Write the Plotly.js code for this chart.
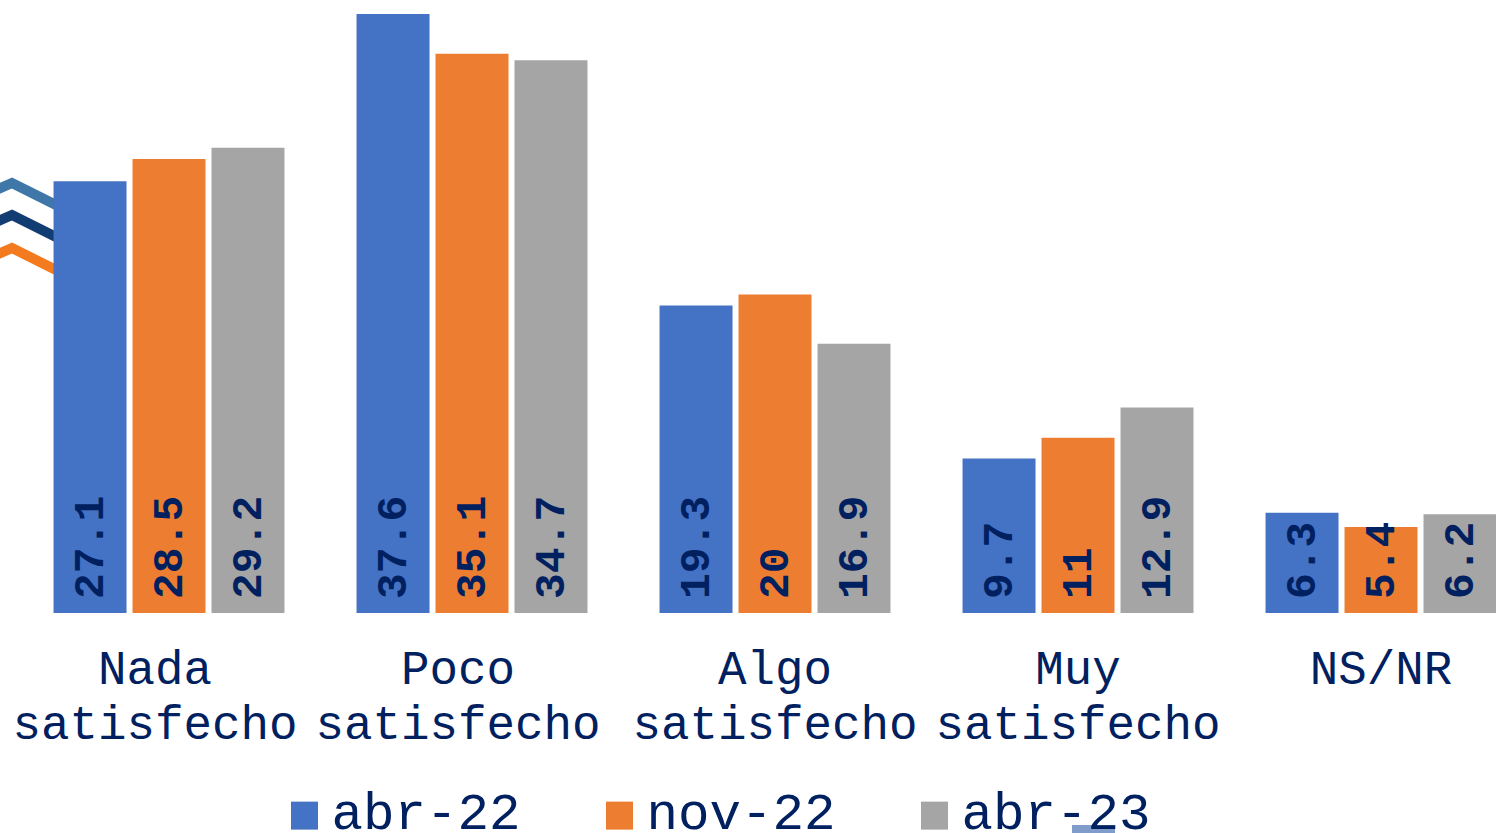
<!DOCTYPE html>
<html><head><meta charset="utf-8">
<script src="https://cdn.plot.ly/plotly-3.0.1.min.js"></script>
<style>html,body{margin:0;padding:0;background:#fff;overflow:hidden}</style>
</head><body><div id="chart" style="width:1496px;height:833px"></div>
<script>
const categories = [0, 1, 2, 3, 4];
const tickPositions = [-0.046, 0.954, 2, 3, 4];
const tickLabels = ["Nada<br>satisfecho", "Poco<br>satisfecho", "Algo<br>satisfecho", "Muy<br>satisfecho", "NS/NR"];
const abr22 = [27.1, 37.6, 19.3, 9.7, 6.3];
const nov22 = [28.5, 35.1, 20, 11, 5.4];
const abr23 = [29.2, 34.7, 16.9, 12.9, 6.2];
const seriesNames = ["abr-22", "nov-22", "abr-23"];
const seriesColors = ["#4472C4", "#ED7D31", "#A5A5A5"];
const ink = "#002060";
const mono = "'Liberation Mono','Courier New',monospace";

const traces = [abr22, nov22, abr23].map((v, i) => ({
  type: "bar", name: seriesNames[i], x: categories, y: v,
  text: v.map(String), textposition: "inside", insidetextanchor: "start",
  textangle: -90, constraintext: "none", cliponaxis: false,
  textfont: {family: mono, size: 43, color: ink, weight: 700},
  marker: {color: seriesColors[i], line: {width: 0}},
  hoverinfo: "x+y+name"
}));

function chevron(yPeak, color) {
  return {type: "path", layer: "below", xref: "paper", yref: "paper",
    path: `M-0.004,${1 - (yPeak + 8) / 833} L${12 / 1496},${1 - yPeak / 833} L${56 / 1496},${1 - (yPeak + 22) / 833}`,
    line: {color, width: 10}};
}

const layout = {
  width: 1496, height: 833,
  margin: {l: 0, r: 0, t: 0, b: 0, pad: 0},
  paper_bgcolor: "#fff", plot_bgcolor: "rgba(0,0,0,0)",
  barmode: "group", bargap: 0.218, bargroupgap: 0.076,
  showlegend: true,
  legend: {
    orientation: "h", x: 0.1855, xanchor: "left", y: 0, yanchor: "bottom",
    font: {family: mono, size: 52.5, color: ink},
    entrywidth: 256, entrywidthmode: "pixels", itemwidth: 44,
    bgcolor: "rgba(0,0,0,0)", borderwidth: 0, traceorder: "normal"
  },
  xaxis: {
    type: "linear", range: [-0.5578, 4.3795], tickmode: "array",
    tickvals: tickPositions, ticktext: tickLabels, ticks: "", showgrid: false,
    zeroline: false, showline: false, automargin: false, tickangle: 0,
    ticklabelstandoff: 22,
    tickfont: {family: mono, size: 47.5, color: ink}
  },
  yaxis: {range: [0, 38.48], domain: [220 / 833, 1], visible: false, fixedrange: true},
  shapes: [
    chevron(183, "#3f78a8"), chevron(215, "#123d73"), chevron(248, "#f47a20"),
    {type: "rect", layer: "below", xref: "paper", yref: "paper",
     x0: 1072 / 1496, x1: 1115 / 1496, y0: 0, y1: 8 / 833,
     fillcolor: "#7f9ccb", line: {width: 0}}
  ]
};

Plotly.newPlot("chart", traces, layout, {displayModeBar: false, responsive: false}).then(gd => {
  gd.querySelectorAll(".legend .legendbar path, .legend .legendpoints path").forEach(p => {
    p.setAttribute("d", "M13.5,21H-13.5V-7H13.5Z");
  });
  const lg = gd.querySelector(".legend");
  if (lg) {
    lg.setAttribute("transform", lg.getAttribute("transform") + " translate(0,17)");
    lg.querySelectorAll("rect.scrollbox, clipPath rect").forEach(() => {});
    const sb = lg.querySelector(".scrollbox");
    if (sb) sb.removeAttribute("clip-path");
    sb && (sb.style.clipPath = "none");
  }
  gd.querySelectorAll(".xtick text tspan.line").forEach(t => {
    if (t.getAttribute("dy") && parseFloat(t.getAttribute("dy")) > 0) t.setAttribute("dy", "55px");
  });
  gd.querySelectorAll(".bars text.bartext").forEach(t => {
    t.setAttribute("transform", "translate(1.5,-11) " + (t.getAttribute("transform") || ""));
  });
});
</script></body></html>
